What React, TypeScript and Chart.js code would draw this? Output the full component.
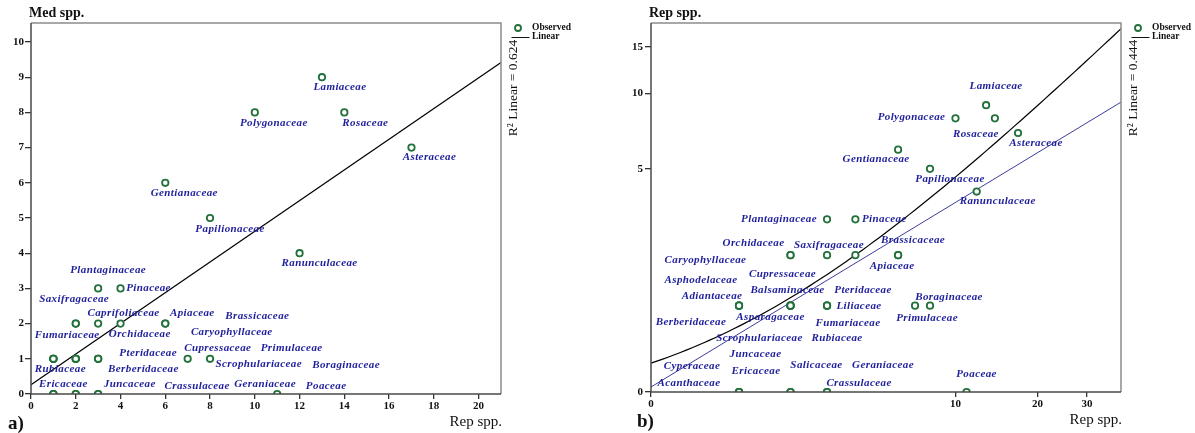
import React, { useEffect, useRef } from "react";
import { Chart, registerables } from "chart.js";

Chart.register(...registerables);

// ---------------- data ----------------
const families = [
  "Lamiaceae", "Polygonaceae", "Rosaceae", "Asteraceae", "Gentianaceae", "Papilionaceae", "Ranunculaceae",
  "Plantaginaceae", "Pinaceae",
  "Orchidaceae", "Caryophyllaceae", "Saxifragaceae", "Caprifoliaceae", "Brassicaceae", "Apiaceae",
  "Asphodelaceae", "Adiantaceae", "Berberidaceae", "Rubiaceae", "Cupressaceae", "Balsaminaceae", "Asparagaceae",
  "Scrophulariaceae", "Pteridaceae", "Liliaceae", "Fumariaceae", "Primulaceae", "Boraginaceae",
  "Acanthaceae", "Cyperaceae", "Ericaceae", "Juncaceae", "Salicaceae", "Crassulaceae", "Geraniaceae", "Poaceae",
];
const repSpp = [13, 10, 14, 17, 6, 8, 12, 3, 4, 2, 2, 3, 4, 6, 6, 1, 1, 1, 1, 2, 2, 2, 2, 3, 3, 3, 7, 8, 1, 1, 1, 2, 2, 3, 3, 11];
const medSpp = [9, 8, 8, 7, 6, 5, 4, 3, 3, 2, 2, 2, 2, 2, 2, 1, 1, 1, 1, 1, 1, 1, 1, 1, 1, 1, 1, 1, 0, 0, 0, 0, 0, 0, 0, 0];

const xTicksA = [0, 2, 4, 6, 8, 10, 12, 14, 16, 18, 20];
const yTicksA = [0, 1, 2, 3, 4, 5, 6, 7, 8, 9, 10];
const xTicksB = [0, 10, 20, 30];
const yTicksB = [0, 5, 10, 15];

// fitted lines
const linearFit = { intercept: 0.26, slope: 0.436, r2: "0.624" }; // Med = a + b*Rep
const logFit = { intercept: 0.0174, slope: 0.618, r2: "0.444" }; // log(y+1) = c + d*log(x+1)

// axis bounds
const boundsA = { xMax: 21, yMax: 10.54 };
const boundsB = { xMax: 39.5, yMax: 18.35 };

// label placement (pixel offsets from each family's point)
const labelLayoutA: [string, number, number][] = [
  ["Lamiaceae", 18, 10], ["Polygonaceae", 19, 11], ["Rosaceae", 21, 11], ["Asteraceae", 18, 10],
  ["Gentianaceae", 19, 10], ["Papilionaceae", 20, 11], ["Ranunculaceae", 20, 10],
  ["Plantaginaceae", 10, -18], ["Pinaceae", 28, 0], ["Saxifragaceae", -24, -24],
  ["Caprifoliaceae", 3, -10], ["Apiaceae", 27, -10], ["Brassicaceae", 92, -7],
  ["Fumariaceae", -31, -24], ["Orchidaceae", 64, 11], ["Caryophyllaceae", 156, 9],
  ["Cupressaceae", 142, -11], ["Primulaceae", 104, -11], ["Pteridaceae", 50, -6],
  ["Scrophulariaceae", 183, 5], ["Boraginaceae", 136, 6], ["Rubiaceae", 7, 10], ["Berberidaceae", 90, 10],
  ["Ericaceae", 10, -10], ["Juncaceae", 54, -10], ["Crassulaceae", 99, -8], ["Geraniaceae", 167, -10],
  ["Poaceae", 49, -8],
];
const labelLayoutB: [string, number, number][] = [
  ["Lamiaceae", 10, -19], ["Polygonaceae", -44, -1], ["Rosaceae", -19, 16], ["Asteraceae", 18, 10],
  ["Gentianaceae", -22, 10], ["Papilionaceae", 20, 10], ["Ranunculaceae", 21, 10],
  ["Plantaginaceae", -48, 0], ["Pinaceae", 29, 0], ["Orchidaceae", -37, -12], ["Saxifragaceae", 2, -10],
  ["Brassicaceae", 15, -15], ["Caryophyllaceae", -85, 5], ["Apiaceae", -6, 11],
  ["Cupressaceae", -8, -32], ["Asphodelaceae", -38, -26], ["Adiantaceae", -27, -10], ["Balsaminaceae", -3, -16],
  ["Pteridaceae", 36, -16], ["Liliaceae", 32, 0], ["Berberidaceae", -48, 16], ["Asparagaceae", -20, 11],
  ["Fumariaceae", 21, 17], ["Scrophulariaceae", -31, 32], ["Rubiaceae", 98, 32], ["Boraginaceae", 19, -9],
  ["Primulaceae", 12, 12], ["Juncaceae", -35, -38], ["Cyperaceae", -47, -26], ["Ericaceae", 17, -21],
  ["Acanthaceae", -50, -9], ["Salicaceae", 26, -27], ["Geraniaceae", 56, -27], ["Crassulaceae", 32, -9],
  ["Poaceae", 10, -18],
];

// ---------------- styling ----------------
const GREEN = "#22703a";
const LABEL_BLUE = "#1e1e9c";
const FIT_BLUE = "#3d3d9e";
const SERIF = "'Liberation Serif', 'DejaVu Serif', serif";

const T = (v: number) => Math.log10(v + 1);
const ident = (v: number) => v;

type Cfg = {
  key: string;
  width: number;
  offset: number;
  tx: (v: number) => number;
  labels: [string, number, number][];
  yTitle: string;
  xTitle: string;
  panel: string;
  r2: string;
};

function makeDecor(cfg: Cfg) {
  return {
    id: "decor" + cfg.key,
    afterDatasetsDraw(chart: any) {
      const ctx: CanvasRenderingContext2D = chart.ctx;
      const { left, right, top, bottom } = chart.chartArea;
      const xs = chart.scales.x;
      const ys = chart.scales.y;
      ctx.save();
      // frame
      ctx.lineWidth = 1.5;
      ctx.strokeStyle = "#8c8c8c";
      ctx.beginPath();
      ctx.moveTo(left, top);
      ctx.lineTo(right, top);
      ctx.lineTo(right, bottom);
      ctx.stroke();
      ctx.strokeStyle = "#4a4a4a";
      ctx.beginPath();
      ctx.moveTo(left, top);
      ctx.lineTo(left, bottom);
      ctx.lineTo(right, bottom);
      ctx.stroke();

      // family labels
      ctx.font = `italic bold 11px ${SERIF}`;
      ctx.fillStyle = LABEL_BLUE;
      ctx.textAlign = "center";
      ctx.textBaseline = "middle";
      (ctx as any).letterSpacing = "0.4px";
      for (const [name, dx, dy] of cfg.labels) {
        const i = families.indexOf(name);
        if (i < 0) continue;
        const px = xs.getPixelForValue(cfg.tx(repSpp[i]));
        const py = ys.getPixelForValue(cfg.tx(medSpp[i]));
        ctx.fillText(name, px + dx, py + dy);
      }
      (ctx as any).letterSpacing = "0px";

      // axis titles
      ctx.fillStyle = "#111";
      ctx.textAlign = "left";
      ctx.font = `bold 14px ${SERIF}`;
      ctx.fillText(cfg.yTitle, left - 2, top - 9.5);
      ctx.textAlign = "right";
      ctx.font = `15px ${SERIF}`;
      ctx.fillText(cfg.xTitle, right + 1, bottom + 28);

      // panel label
      ctx.textAlign = "left";
      ctx.font = `bold 19px ${SERIF}`;
      ctx.fillText(cfg.panel, cfg.key === "a" ? left - 23 : left - 14, bottom + 30);

      // R² text (rotated)
      ctx.save();
      ctx.translate(right + 12.5, top + 65);
      ctx.rotate(-Math.PI / 2);
      ctx.textAlign = "center";
      ctx.font = `13.5px ${SERIF}`;
      ctx.fillStyle = "#111";
      ctx.fillText("R² Linear = " + cfg.r2, 0, 0);
      ctx.restore();

      // legend
      ctx.lineWidth = 1.8;
      ctx.strokeStyle = GREEN;
      ctx.fillStyle = "#fff";
      ctx.beginPath();
      ctx.arc(right + 17, top + 5, 3, 0, Math.PI * 2);
      ctx.fill();
      ctx.stroke();
      ctx.lineWidth = 1;
      ctx.strokeStyle = "#111";
      ctx.beginPath();
      ctx.moveTo(right + 10.5, top + 14.5);
      ctx.lineTo(right + 28.5, top + 14.5);
      ctx.stroke();
      ctx.fillStyle = "#111";
      ctx.font = `bold 9.5px ${SERIF}`;
      ctx.textAlign = "left";
      ctx.fillText("Observed", right + 31, top + 5);
      ctx.fillText("Linear", right + 31, top + 14);
      ctx.restore();
    },
  };
}

const tickFont = { family: SERIF, size: 11, weight: "bold" as const };

function axis(ticksList: number[], tx: (v: number) => number, max: number, size: number, isX: boolean, tickLen: number, pad: number) {
  return {
    type: "linear" as const,
    min: 0,
    max: tx(max),
    border: { display: false },
    grid: { drawOnChartArea: false, drawTicks: true, tickLength: tickLen, color: "#333", lineWidth: 1.3 },
    ticks: {
      font: tickFont,
      color: "#111",
      padding: pad,
      autoSkip: false,
      maxRotation: 0,
      callback: (_v: any, i: number) => String(ticksList[i]),
    },
    afterBuildTicks: (s: any) => {
      s.ticks = ticksList.map((v) => ({ value: tx(v) }));
    },
    afterFit: (s: any) => {
      if (isX) s.height = size;
      else s.width = size;
    },
  };
}

function buildConfig(cfg: Cfg): any {
  const isA = cfg.key === "a";
  const bounds = isA ? boundsA : boundsB;
  const points = repSpp.map((x, i) => ({ x: cfg.tx(x), y: cfg.tx(medSpp[i]) }));
  const datasets: any[] = [
    {
      type: "scatter",
      data: points,
      pointRadius: 3.2,
      pointBorderWidth: 1.8,
      pointBorderColor: GREEN,
      pointBackgroundColor: "#fff",
      clip: 0,
      order: 1,
    },
  ];
  if (isA) {
    datasets.push({
      type: "line",
      data: [0, bounds.xMax].map((x) => ({ x, y: linearFit.intercept + linearFit.slope * x })),
      borderColor: "#000",
      borderWidth: 1.2,
      pointRadius: 0,
      fill: false,
      clip: 0,
      order: 2,
    });
  } else {
    const uMax = T(bounds.xMax);
    const steps = 80;
    const curve = Array.from({ length: steps + 1 }, (_, k) => {
      const u = (uMax * k) / steps;
      const x = Math.pow(10, u) - 1;
      return { x: u, y: T(linearFit.intercept + linearFit.slope * x) };
    });
    datasets.push({
      type: "line",
      data: curve,
      borderColor: "#000",
      borderWidth: 1.2,
      pointRadius: 0,
      fill: false,
      tension: 0,
      clip: 0,
      order: 2,
    });
    datasets.push({
      type: "line",
      data: [0, uMax].map((u) => ({ x: u, y: logFit.intercept + logFit.slope * u })),
      borderColor: FIT_BLUE,
      borderWidth: 1,
      pointRadius: 0,
      fill: false,
      clip: 0,
      order: 3,
    });
  }
  return {
    type: "scatter",
    data: { datasets },
    options: {
      responsive: false,
      animation: false,
      events: [],
      layout: isA ? { padding: { left: 0, top: 23, right: 89, bottom: 0 } } : { padding: { left: 0, top: 23, right: 74, bottom: 0 } },
      plugins: { legend: { display: false }, tooltip: { enabled: false } },
      scales: {
        x: isA ? axis(xTicksA, ident, bounds.xMax, 39, true, 5, 1) : axis(xTicksB, T, bounds.xMax, 41, true, 5, 1),
        y: isA ? axis(yTicksA, ident, bounds.yMax, 31, false, 6, 1) : axis(yTicksB, T, bounds.yMax, 61, false, 6, 2),
      },
    },
    plugins: [makeDecor(cfg)],
  };
}

const panels: Cfg[] = [
  { key: "a", width: 590, offset: 0, tx: ident, labels: labelLayoutA, yTitle: "Med spp.", xTitle: "Rep spp.", panel: "a)", r2: linearFit.r2 },
  { key: "b", width: 605, offset: 590, tx: T, labels: labelLayoutB, yTitle: "Rep spp.", xTitle: "Rep spp.", panel: "b)", r2: logFit.r2 },
];

function Panel({ cfg }: { cfg: Cfg }) {
  const ref = useRef<HTMLCanvasElement>(null);
  useEffect(() => {
    const chart = new Chart(ref.current as HTMLCanvasElement, buildConfig(cfg));
    return () => chart.destroy();
  }, [cfg]);
  return (
    <canvas
      ref={ref}
      width={cfg.width}
      height={433}
      style={{ position: "absolute", left: cfg.offset, top: 0, width: cfg.width, height: 433 }}
    />
  );
}

export default function App() {
  return (
    <div style={{ position: "fixed", left: 0, top: 0, width: 1195, height: 433, background: "#fff", overflow: "hidden" }}>
      {panels.map((p) => (
        <Panel key={p.key} cfg={p} />
      ))}
    </div>
  );
}
